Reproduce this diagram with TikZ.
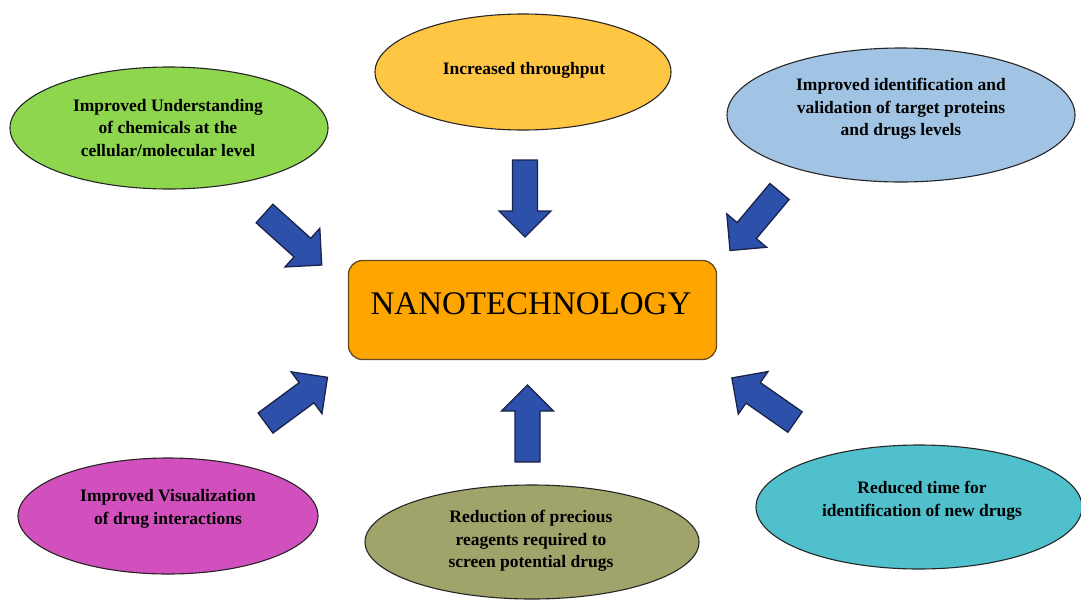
\documentclass[tikz,border=0pt]{standalone}
\usepackage{fontspec}
\setmainfont{Liberation Serif}
\usetikzlibrary{shapes.geometric}
\definecolor{cgreen}{RGB}{141,214,77}
\definecolor{cyellow}{RGB}{255,198,68}
\definecolor{cblue}{RGB}{162,196,228}
\definecolor{cmagenta}{RGB}{210,79,190}
\definecolor{colive}{RGB}{160,163,106}
\definecolor{ccyan}{RGB}{79,192,204}
\definecolor{corange}{RGB}{255,165,0}
\definecolor{boxedge}{RGB}{100,75,30}
\definecolor{arrowblue}{RGB}{45,80,170}
\definecolor{arrowedge}{RGB}{25,35,75}
\begin{document}
\begin{tikzpicture}[x=1pt,y=-1pt,
  ell/.style={ellipse, draw=black!85, line width=1.1pt, inner sep=0pt},
  lbl/.style={align=center, font=\fontsize{17.5}{22.5}\selectfont\bfseries, text=black, inner sep=0pt},
  blk/.pic={\draw[fill=arrowblue, draw=arrowedge, line width=1.3pt, line join=miter]
     (0,-12.5) -- (51,-12.5) -- (51,-26) -- (77,0) -- (51,26) -- (51,12.5) -- (0,12.5) -- cycle;}
]
\useasboundingbox (0,0) rectangle (1081,600);
\fill[white] (0,0) rectangle (1081,600);

% ellipses
\node[ell, fill=cgreen,   minimum width=318pt, minimum height=122pt] (e1) at (169,128) {};
\node[ell, fill=cyellow,  minimum width=296pt, minimum height=116pt] (e2) at (523,72) {};
\node[ell, fill=cblue,    minimum width=348pt, minimum height=134pt] (e3) at (901,115) {};
\node[ell, fill=cmagenta, minimum width=300pt, minimum height=116pt] (e4) at (168,516) {};
\node[ell, fill=colive,   minimum width=334pt, minimum height=114pt] (e5) at (532,542) {};
\node[ell, fill=ccyan,    minimum width=326pt, minimum height=124pt] (e6) at (919,507) {};

% labels
\node[lbl] (l1) at (168,128) {Improved Understanding\\of chemicals at the\\cellular/molecular level};
\node[lbl] (l2) at (524,70) {Increased throughput};
\node[lbl] (l3) at (901,109) {Improved identification and\\validation of target proteins\\and drugs levels};
\node[lbl] (l4) at (168,509) {Improved Visualization\\of drug interactions};
\node[lbl] (l5) at (531,541) {Reduction of precious\\reagents required to\\screen potential drugs};
\node[lbl] (l6) at (922,501) {Reduced time for\\identification of new drugs};

% center box
\node[draw=boxedge, fill=corange, rounded corners=14pt, line width=1.3pt,
      minimum width=368pt, minimum height=99pt] (nano) at (532.5,310) {};
\node[font=\fontsize{33}{36}\selectfont, inner sep=0pt] (nanotext) at (531,303.5) {NANOTECHNOLOGY};

% block arrows
\pic (a1) at (264.5,213.5) [rotate=-42] {blk};
\pic (a2) at (525,160) [rotate=-90] {blk};
\pic (a3) at (779.5,191.5) [rotate=-130] {blk};
\pic (a4) at (265.5,423) [rotate=36.4] {blk};
\pic (a5) at (527.5,462) [rotate=90] {blk};
\pic (a6) at (795,422) [rotate=145.1] {blk};
\end{tikzpicture}
\end{document}
